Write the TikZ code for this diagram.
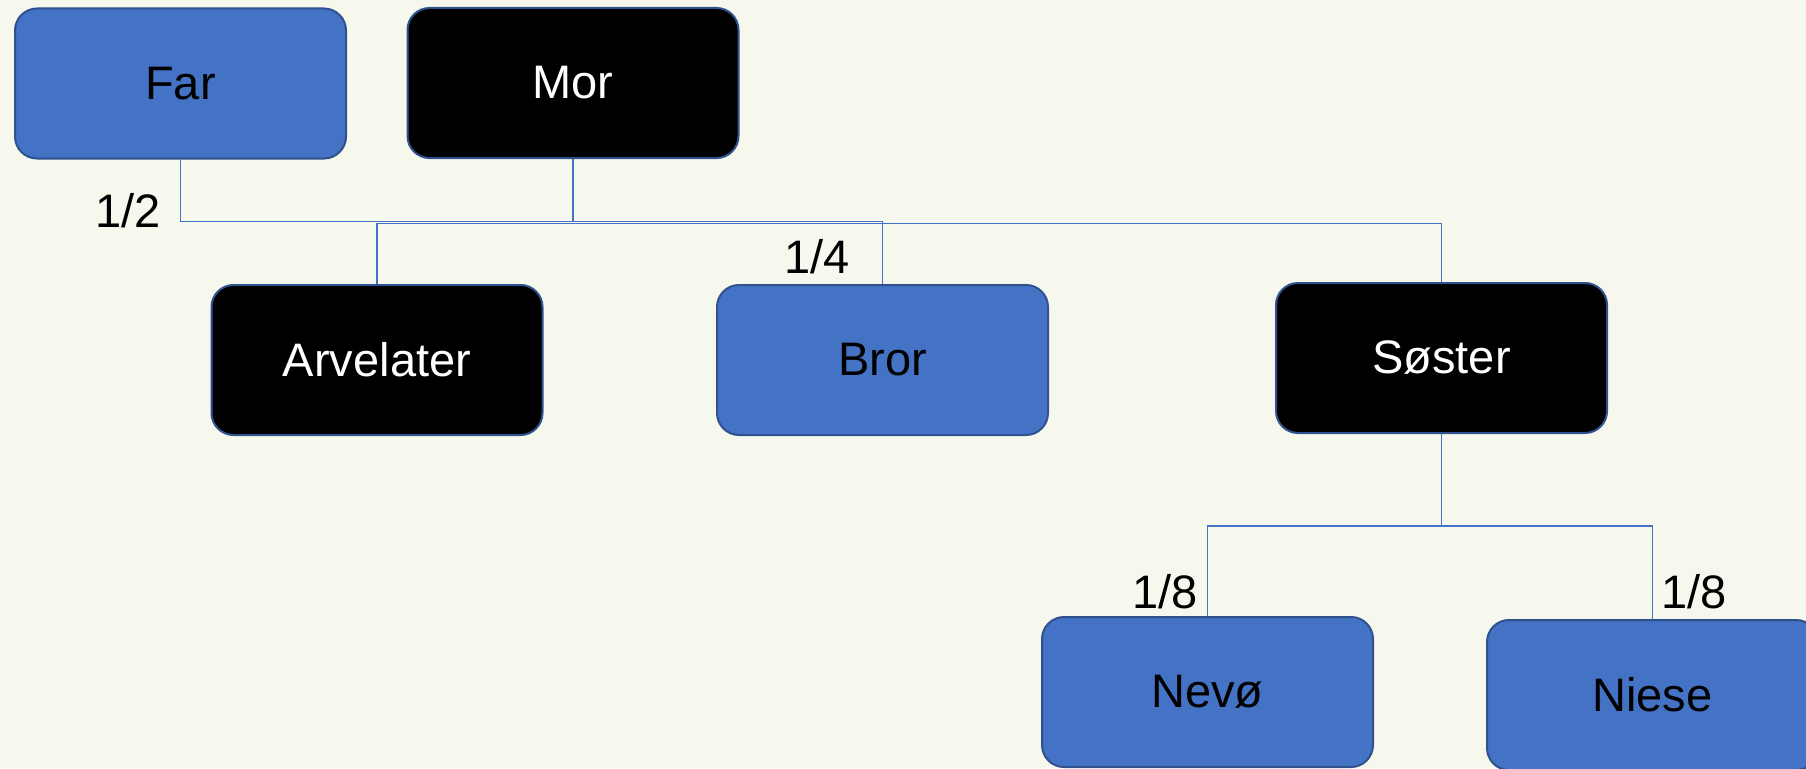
\documentclass[tikz,border=0pt]{standalone}
\usepackage{fontspec}
\setmainfont{Liberation Sans}
\definecolor{bgcol}{HTML}{F7F8ED}
\definecolor{boxblue}{HTML}{4472C4}
\definecolor{boxline}{HTML}{2F528F}
\tikzset{
  person/.style={rounded corners=22pt, minimum width=331pt, minimum height=150pt,
    inner sep=0pt, draw=boxline, line width=2pt, font=\fontsize{47}{56}\selectfont},
  bluebox/.style={person, fill=boxblue, text=black},
  blackbox/.style={person, fill=black, text=white},
  link/.style={draw=boxblue, line width=1.3pt},
  frac/.style={inner sep=0pt, font=\fontsize{47}{56}\selectfont}
}
\begin{document}
\begin{tikzpicture}[x=1pt,y=-1pt]
    \fill[bgcol] (0,0) rectangle (1806,768);
    \useasboundingbox (0,0) rectangle (1806,768);
\foreach \n/\x/\y/\s/\t in {far/180.5/83.5/bluebox/Far, mor/573/83/blackbox/Mor,
    arv/377/360/blackbox/Arvelater, bror/882.5/360/bluebox/Bror,
    sos/1441.5/358/blackbox/Søster, nevo/1207.5/692/bluebox/Nevø,
    niese/1652.5/695/bluebox/Niese}
{
    \node[\s] (\n) at (\x,\y) {\t};
}
    \coordinate (top) at (0,221.7);
    \coordinate (mid) at (0,223.3);
    \coordinate (low) at (0,526);
\draw[link] (far.south) |- (top -| mor.south) -- (mor.south);
\draw[link] (arv.north) |- (mid -| sos.north) -- (sos.north);
\draw[link] (bror.north) -- (bror.north |- top) -- (arv.north |- top);
\draw[link] (sos.south) -- (sos.south |- low);
\draw[link] (nevo.north) |- (sos.south |- low) -| (niese.north);
    \node[frac, anchor=base east] (halv) at (161,227) {1/2};
    \node[frac, anchor=base east] (kvart) at (850,273) {1/4};
    \node[frac, anchor=base east] (attendelA) at (1198,608) {1/8};
    \node[frac, anchor=base west] (attendelB) at (1661,608) {1/8};
\end{tikzpicture}
\end{document}
